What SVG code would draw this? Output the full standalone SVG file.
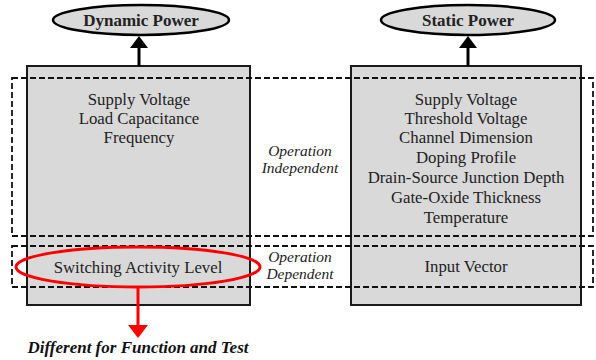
<svg xmlns="http://www.w3.org/2000/svg" width="596" height="360" viewBox="0 0 596 360">
  <defs>
    <style>
      .box { fill: #d9d9d9; stroke: #1a1a1a; stroke-width: 2; }
      .power { fill: #d9d9d9; stroke: #000; stroke-width: 2.5; }
      .title { font-family: "Liberation Serif", "DejaVu Serif", serif; font-weight: bold; font-size: 17px; text-anchor: middle; fill: #222; }
      .item { font-family: "Liberation Serif", "DejaVu Serif", serif; font-size: 16.8px; text-anchor: middle; fill: #222; }
      .zone { fill: none; stroke: #111; stroke-width: 1.8; stroke-dasharray: 6 3; }
      .zone-label { font-family: "Liberation Serif", "DejaVu Serif", serif; font-style: italic; font-size: 15.5px; text-anchor: middle; fill: #222; }
      .conn { stroke: #000; stroke-width: 3; fill: none; }
      .conn-red { stroke: #f00; stroke-width: 3; fill: none; }
      .note { font-family: "Liberation Serif", "DejaVu Serif", serif; font-style: italic; font-weight: bold; font-size: 17px; text-anchor: middle; fill: #111; }
    </style>
  </defs>

  <!-- factor boxes -->
  <g id="dynamic-factors">
    <rect class="box" x="27" y="66" width="223" height="239"/>
    <text class="item" x="139" y="105">Supply Voltage</text>
    <text class="item" x="139" y="124">Load Capacitance</text>
    <text class="item" x="139" y="143">Frequency</text>
  </g>
  <g id="static-factors">
    <rect class="box" x="351" y="66" width="230" height="239"/>
    <text class="item" x="466" y="105">Supply Voltage</text>
    <text class="item" x="466" y="124">Threshold Voltage</text>
    <text class="item" x="466" y="143">Channel Dimension</text>
    <text class="item" x="466" y="163">Doping Profile</text>
    <text class="item" x="466" y="183">Drain-Source Junction Depth</text>
    <text class="item" x="466" y="203">Gate-Oxide Thickness</text>
    <text class="item" x="466" y="223">Temperature</text>
  </g>
  <g id="input-vector">
    <text class="item" x="466" y="272">Input Vector</text>
  </g>

  <!-- operation zones -->
  <g id="zone-independent">
    <rect class="zone" x="12" y="78" width="581" height="158"/>
    <text class="zone-label" x="300" y="156">Operation</text>
    <text class="zone-label" x="300" y="173">Independent</text>
  </g>
  <g id="zone-dependent">
    <rect class="zone" x="12" y="246" width="581" height="41"/>
    <text class="zone-label" x="300" y="262">Operation</text>
    <text class="zone-label" x="300" y="279">Dependent</text>
  </g>

  <!-- power outputs -->
  <g id="dynamic-power">
    <ellipse class="power" cx="141" cy="20" rx="88" ry="15"/>
    <text class="title" x="141" y="26">Dynamic Power</text>
  </g>
  <g id="static-power">
    <ellipse class="power" cx="468" cy="20" rx="87" ry="15"/>
    <text class="title" x="468" y="26">Static Power</text>
  </g>

  <!-- switching activity highlight -->
  <g id="switching-activity">
    <ellipse cx="138" cy="267" rx="122" ry="20" fill="none" stroke="#f00" stroke-width="3"/>
    <text class="item" x="138" y="273">Switching Activity Level</text>
  </g>

  <g id="note">
    <text class="note" x="138" y="353">Different for Function and Test</text>
  </g>

  <!-- connectors -->
  <g id="connectors">
    <line class="conn" x1="139" y1="66" x2="139" y2="48"/>
    <polygon points="139,36 130,48 148,48" fill="#000"/>
    <line class="conn" x1="468" y1="66" x2="468" y2="48"/>
    <polygon points="468,36 459,48 477,48" fill="#000"/>
    <line class="conn-red" x1="138" y1="287" x2="138" y2="326"/>
    <polygon points="138,338 128,325 148,325" fill="#f00"/>
  </g>
</svg>
